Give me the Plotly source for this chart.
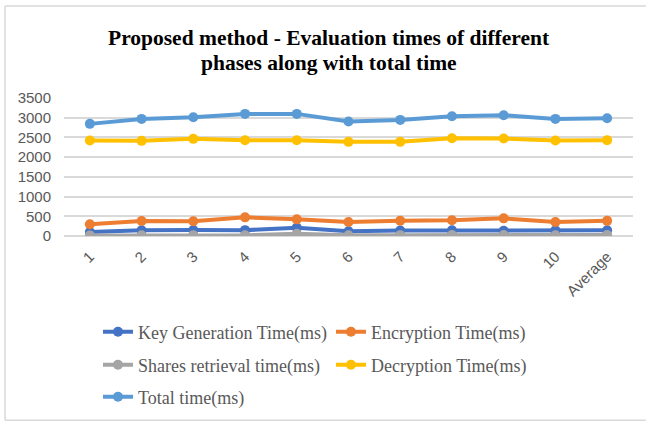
import plotly.graph_objects as go

categories = ["1", "2", "3", "4", "5", "6", "7", "8", "9", "10", "Average"]
key_generation = [101, 144, 150, 148, 212, 118, 140, 145, 130, 142, 143]
encryption = [296, 380, 372, 473, 422, 355, 388, 400, 448, 355, 384]
shares_retrieval = [15, 20, 22, 18, 55, 20, 22, 24, 26, 20, 24]
decryption = [2421, 2413, 2464, 2430, 2430, 2388, 2388, 2480, 2472, 2422, 2431]
total = [2844, 2970, 3013, 3097, 3097, 2902, 2945, 3036, 3062, 2970, 2985]
title_lines = ["Proposed method - Evaluation times of different",
               "phases along with total time"]

series = [
    ("Key Generation Time(ms)", key_generation, "#4472C4", "legend"),
    ("Encryption Time(ms)", encryption, "#ED7D31", "legend"),
    ("Shares retrieval time(ms)", shares_retrieval, "#A5A5A5", "legend2"),
    ("Decryption Time(ms)", decryption, "#FFC000", "legend2"),
    ("Total time(ms)", total, "#5B9BD5", "legend3"),
]

fig = go.Figure()
for name, vals, color, lg in series:
    fig.add_trace(go.Scatter(
        x=categories, y=vals, name=name, mode="lines+markers",
        line=dict(color=color, width=4),
        marker=dict(color=color, size=10),
        legend=lg,
    ))

W, H = 646, 421
L, R, T, B = 64, 13, 98, 185
pw = W - L - R
ph = H - T - B

def px(x):
    return (x - L) / pw

def py(y):
    return (H - B - y) / ph

legend_common = dict(
    orientation="h", xref="container", yref="container",
    xanchor="left", yanchor="middle", entrywidth=188, entrywidthmode="pixels",
    font=dict(family="Liberation Serif", size=18, color="#595959"),
    bgcolor="rgba(0,0,0,0)", itemclick=False, tracegroupgap=0,
)

title_ys = [38, 63]
annotations = [
    dict(text=f"<b>{t}</b>", xref="paper", yref="paper", x=px(329), y=py(yy),
         xanchor="center", yanchor="middle", showarrow=False,
         font=dict(family="Liberation Serif", size=21.5, color="#000000"))
    for t, yy in zip(title_lines, title_ys)
]

border = dict(color="#D9D9D9", width=1.5)
shapes = [
    dict(type="line", xref="paper", yref="paper", x0=px(5), x1=px(5),
         y0=py(6), y1=py(420.3), line=border, layer="below"),
    dict(type="line", xref="paper", yref="paper", x0=px(5), x1=px(700),
         y0=py(6), y1=py(6), line=border, layer="below"),
    dict(type="line", xref="paper", yref="paper", x0=px(5), x1=px(700),
         y0=py(420.3), y1=py(420.3), line=border, layer="below"),
]

fig.update_layout(
    width=W, height=H,
    margin=dict(l=L, r=R, t=T, b=B),
    paper_bgcolor="white", plot_bgcolor="white",
    annotations=annotations,
    shapes=shapes,
    xaxis=dict(
        type="category", tickangle=-45, showgrid=False, showline=False,
        ticks="", zeroline=False,
        tickfont=dict(family="Liberation Sans", size=15, color="#595959"),
        range=[-0.5, len(categories) - 0.5],
        ticklabelstandoff=8,
    ),
    yaxis=dict(
        range=[0, 3500], dtick=500, tick0=0, showgrid=True,
        gridcolor="#D9D9D9", gridwidth=1.5, zeroline=True,
        zerolinecolor="#D9D9D9", zerolinewidth=1.5, showline=False, ticks="",
        tickfont=dict(family="Liberation Sans", size=15, color="#595959"),
        ticklabelstandoff=12,
    ),
    legend=dict(legend_common, x=98 / W, y=1 - 332 / H),
    legend2=dict(legend_common, x=98 / W, y=1 - 365 / H),
    legend3=dict(legend_common, x=98 / W, y=1 - 397 / H),
    showlegend=True,
)

fig.write_html("out.html", config={"displayModeBar": False},
               post_script="document.body.style.margin='0';")
